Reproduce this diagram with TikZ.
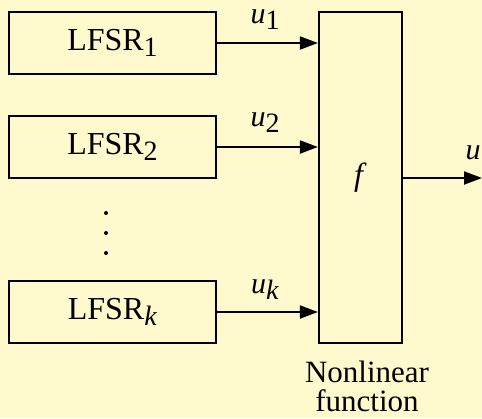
\documentclass[tikz,border=0pt]{standalone}
\usepackage{fontspec}
\setmainfont{Liberation Serif}
\usetikzlibrary{arrows.meta}
\definecolor{bgc}{RGB}{255,250,205}
\begin{document}
\begin{tikzpicture}[x=1pt,y=-1pt,
  blk/.style={draw, line width=2.2pt, minimum width=207pt, minimum height=62pt, inner sep=0pt, font=\fontsize{32}{36}\selectfont},
  fbox/.style={draw, line width=2.2pt, minimum width=83pt, minimum height=331pt, inner sep=0pt, font=\fontsize{32}{36}\selectfont},
  arr/.style={line width=2pt, -{Triangle[length=18pt,width=13pt]}},
  lbl/.style={font=\fontsize{30}{34}\selectfont, inner sep=0pt},
  captxt/.style={font=\fontsize{31}{34}\selectfont, inner sep=0pt}]
\fill[bgc] (0,0) rectangle (482,418);
\useasboundingbox (0,0) rectangle (482,418);
\newcommand{\lsub}[1]{\raisebox{-6pt}{\fontsize{28}{30}\selectfont #1}}
\node[blk] (l1) at (112.5,43) {LFSR\lsub{1}};
\node[blk] (l2) at (112.5,147) {LFSR\lsub{2}};
\node[blk] (lk) at (112.5,312) {LFSR\lsub{\textit{k}}};
\node[fbox] (f) at (360.5,177.5) {\textit{f}};
\coordinate (out) at (482,178);
\draw[arr] (l1.east) -- (f.west |- l1.east);
\draw[arr] (l2.east) -- (f.west |- l2.east);
\draw[arr] (lk.east) -- (f.west |- lk.east);
\draw[arr] (f.east |- out) -- (out);
\node[lbl] (u1) at (265,20) {\textit{u}\lsub{1}};
\node[lbl] (u2) at (265,123) {\textit{u}\lsub{2}};
\node[lbl] (uk) at (265,290) {\textit{u}\lsub{\textit{k}}};
\node[lbl] (u) at (473,153) {\textit{u}};
\foreach \yy/\nm in {213/d1,233/d2,253/d3}
  \fill (106,\yy) circle (2pt) coordinate (\nm);
\node[captxt] (nl) at (367,372) {Nonlinear};
\node[captxt] (fn) at (367,401) {function};
\end{tikzpicture}
\end{document}
